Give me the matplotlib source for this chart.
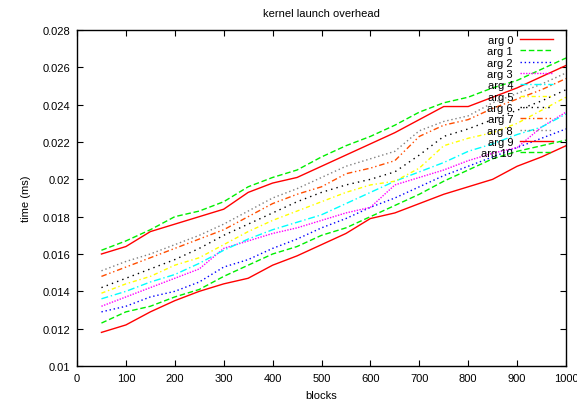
import matplotlib
matplotlib.use("Agg")
import matplotlib.pyplot as plt

blocks = [50, 100, 150, 200, 250, 300, 350, 400, 450, 500,
          550, 600, 650, 700, 750, 800, 850, 900, 950, 1000]

arg0 = [.0160, .0164, .0172, .0176, .0180, .0184, .0193, .0198, .0201, .0207,
        .0213, .0219, .0225, .0232, .0239, .0239, .0244, .0249, .0255, .0261]
arg1 = [.0162, .0167, .0173, .0180, .0183, .0188, .0196, .0201, .0205, .0212,
        .0218, .0223, .0229, .0236, .0241, .0244, .0249, .0253, .0259, .0265]
arg2 = [.0129, .0132, .0137, .0140, .0145, .0153, .0157, .0163, .0168, .0174,
        .0179, .0185, .0190, .0196, .0202, .0207, .0212, .0217, .0222, .0227]
arg3 = [.0132, .0137, .0142, .0147, .0152, .0163, .0167, .0171, .0174, .0178,
        .0182, .0185, .0197, .0201, .0205, .0210, .0214, .0217, .0228, .0236]
arg4 = [.0136, .0140, .0145, .0149, .0155, .0162, .0168, .0173, .0177, .0181,
        .0187, .0193, .0199, .0204, .0209, .0215, .0219, .0224, .0228, .0235]
arg5 = [.0139, .0144, .0148, .0154, .0158, .0165, .0172, .0178, .0183, .0188,
        .0193, .0197, .0199, .0206, .0218, .0222, .0225, .0230, .0237, .0244]
arg6 = [.0142, .0147, .0152, .0157, .0163, .0170, .0176, .0182, .0188, .0193,
        .0197, .0200, .0204, .0213, .0223, .0227, .0232, .0237, .0242, .0248]
arg7 = [.0148, .0153, .0158, .0163, .0168, .0173, .0180, .0187, .0192, .0196,
        .0203, .0206, .0210, .0223, .0229, .0232, .0238, .0243, .0248, .0254]
arg8 = [.0151, .0156, .0160, .0165, .0170, .0176, .0183, .0190, .0195, .0201,
        .0207, .0211, .0215, .0226, .0231, .0234, .0241, .0246, .0251, .0257]
arg9 = [.0118, .0122, .0129, .0135, .0140, .0144, .0147, .0154, .0159, .0165,
        .0171, .0179, .0182, .0187, .0192, .0196, .0200, .0207, .0212, .0218]
arg10 = [.0123, .0129, .0132, .0137, .0141, .0148, .0154, .0160, .0164, .0170,
         .0174, .0180, .0186, .0192, .0199, .0205, .0211, .0215, .0218, .0221]

series = [arg0, arg1, arg2, arg3, arg4, arg5, arg6, arg7, arg8, arg9, arg10]
labels = ["arg %d" % i for i in range(11)]

xticks = [0, 100, 200, 300, 400, 500, 600, 700, 800, 900, 1000]
yticks = [0.01, 0.012, 0.014, 0.016, 0.018, 0.02, 0.022, 0.024, 0.026, 0.028]
ytick_labels = ["0.01", "0.012", "0.014", "0.016", "0.018", "0.02",
                "0.022", "0.024", "0.026", "0.028"]

colors = ["#ff0000", "#00ee00", "#0000ff", "#ff00ff", "#00ffff", "#ffff00",
          "#000000", "#ff4d00", "#808080", "#ff0000", "#00ee00"]
dashes = [None, (4, 2), (1, 2), (1, 1), (5, 2, 1, 2), (3, 2, 1, 2),
          (1, 3), (4, 2, 1, 2, 1, 2), (1, 2), None, (4, 2)]

plt.rcParams['font.family'] = ['Liberation Sans', 'DejaVu Sans']

fig = plt.figure(figsize=(5.77, 4.02), dpi=100)
ax = fig.add_axes([77/577, 35/402, (566-77)/577, (367-31)/402])

for s, lab, c, d in zip(series, labels, colors, dashes):
    line, = ax.plot(blocks, s, color=c, lw=1.0, label=lab)
    if d is not None:
        line.set_dashes(d)

ax.set_xlim(0, 1000)
ax.set_ylim(0.01, 0.028)
ax.set_xticks(xticks)
ax.set_xticklabels([str(t) for t in xticks])
ax.set_yticks(yticks)
ax.set_yticklabels(ytick_labels)
ax.tick_params(direction='in', top=True, right=True, labelsize=8, length=4, pad=5)
for sp in ax.spines.values():
    sp.set_linewidth(1.0)

ax.set_title("kernel launch overhead", fontsize=8, pad=10)
ax.set_xlabel("blocks", fontsize=8, labelpad=5)
ax.set_ylabel("time (ms)", fontsize=8, labelpad=8)

leg = ax.legend(loc='upper right', bbox_to_anchor=(0.978, 0.992),
                markerfirst=False, frameon=False,
                fontsize=8, handlelength=3.0, labelspacing=0.12,
                borderaxespad=0.0, handletextpad=0.6, borderpad=0.2)

fig.savefig("out.png", dpi=100)
